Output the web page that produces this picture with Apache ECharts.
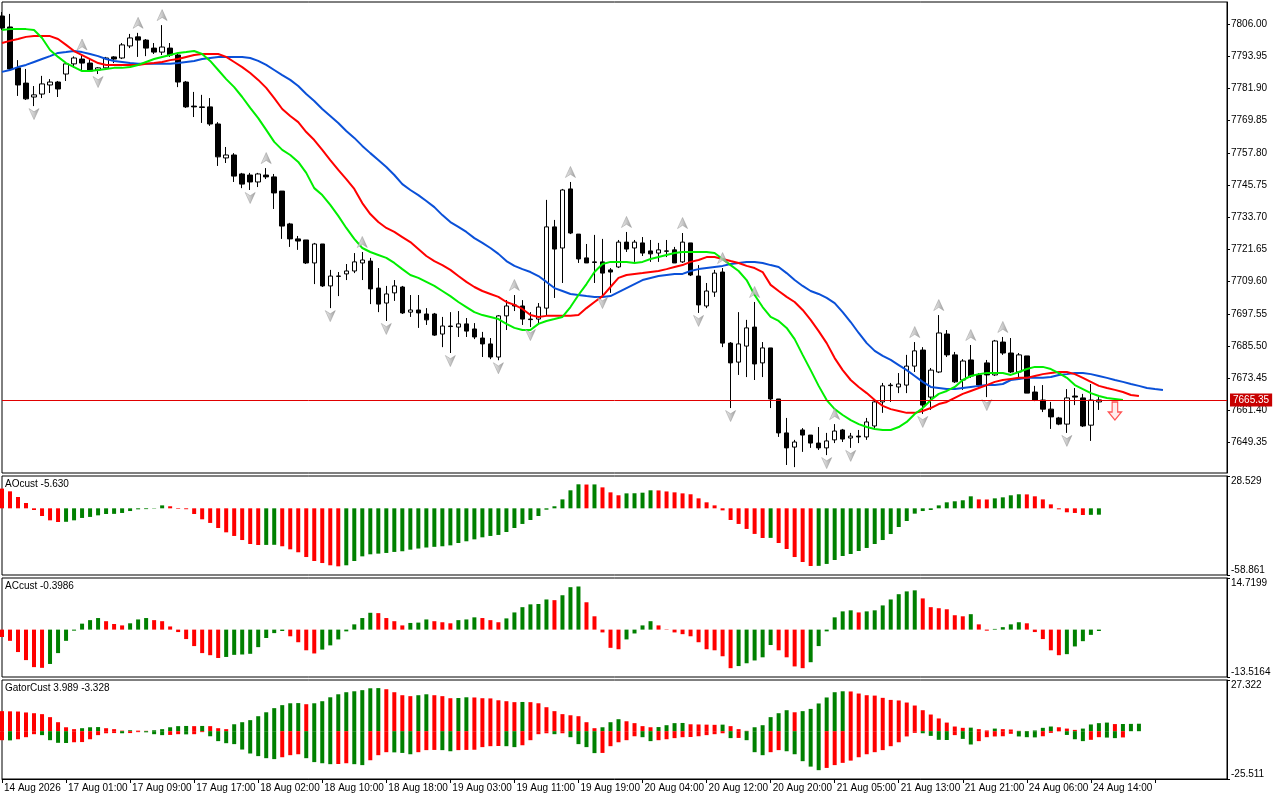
<!DOCTYPE html>
<html><head><meta charset="utf-8">
<script src="https://cdn.jsdelivr.net/npm/echarts@6/dist/echarts.min.js"></script>
<style>html,body{margin:0;padding:0;background:#fff}#c{width:1280px;height:800px}</style>
</head><body><div id="c"></div><script>
// ---------- data ----------
// candles: [open, close, low, high], H1 bars from 14 Aug 2026 16:00
const ohlc = [
[7809.0,7804.5,7803.8,7810.5],[7804.9,7789.2,7788.8,7809.8],[7789.6,7783.2,7779.1,7792.5],[7783.9,7778.0,7777.6,7789.2],
[7778.7,7779.5,7775.3,7782.8],[7779.8,7783.6,7778.3,7786.6],[7783.2,7784.3,7780.2,7785.4],[7784.3,7781.7,7778.7,7784.7],
[7787.3,7791.1,7784.7,7791.8],[7791.1,7793.3,7789.6,7793.9],[7792.9,7791.4,7788.4,7794.6],[7791.4,7788.4,7788.1,7793.3],
[7788.8,7789.6,7787.3,7789.9],[7789.6,7793.3,7788.8,7793.7],[7793.7,7792.9,7791.4,7794.0],[7793.3,7798.2,7792.9,7798.9],
[7797.8,7800.8,7797.0,7802.3],[7801.2,7800.0,7793.7,7802.7],[7800.0,7797.0,7794.0,7800.4],[7797.0,7795.5,7794.8,7798.9],
[7795.5,7797.4,7794.4,7805.6],[7797.0,7794.4,7793.7,7798.9],[7794.4,7784.3,7782.4,7794.8],[7784.3,7775.0,7774.6,7784.7],
[7775.3,7775.0,7771.2,7780.6],[7775.0,7774.8,7769.0,7779.5],[7775.0,7768.6,7767.9,7778.3],[7768.6,7756.3,7752.9,7769.3],
[7755.9,7757.0,7754.0,7760.0],[7757.0,7749.1,7746.9,7757.7],[7749.9,7746.1,7744.6,7750.3],[7749.5,7746.9,7743.9,7750.3],
[7746.9,7749.9,7745.0,7750.3],[7749.5,7748.8,7748.0,7752.1],[7748.8,7742.8,7736.8,7749.9],[7743.5,7730.4,7725.6,7743.5],
[7731.2,7725.6,7722.6,7731.6],[7725.6,7724.8,7721.5,7726.7],[7725.2,7716.6,7716.2,7725.2],[7716.6,7723.7,7708.7,7724.1],
[7723.7,7708.0,7707.6,7723.7],[7708.0,7711.7,7699.7,7714.0],[7711.7,7711.6,7704.2,7713.2],[7712.5,7713.6,7710.2,7716.2],
[7713.6,7717.0,7712.8,7720.3],[7716.6,7717.7,7710.2,7720.7],[7717.3,7706.9,7701.2,7718.5],[7707.2,7701.2,7698.2,7714.7],
[7701.6,7705.0,7694.9,7708.0],[7705.4,7708.0,7702.4,7710.2],[7707.6,7697.9,7697.5,7708.0],[7698.2,7699.0,7696.4,7704.6],
[7699.0,7697.9,7692.3,7704.6],[7697.5,7695.3,7693.4,7699.7],[7697.5,7689.6,7689.3,7697.9],[7690.0,7693.0,7685.1,7696.4],
[7693.0,7692.8,7682.9,7698.2],[7692.6,7693.8,7688.9,7698.6],[7693.8,7691.1,7688.9,7696.0],[7691.9,7688.9,7688.1,7694.1],
[7688.5,7686.3,7681.4,7690.8],[7686.3,7681.4,7680.6,7688.5],[7681.4,7696.8,7680.2,7697.1],[7696.8,7700.5,7691.5,7702.7],
[7700.9,7700.5,7698.6,7704.6],[7700.5,7695.6,7693.4,7702.7],[7695.6,7695.4,7692.6,7698.2],[7695.6,7700.1,7694.1,7701.6],
[7699.7,7730.1,7697.1,7740.2],[7730.1,7721.8,7703.5,7732.7],[7722.2,7743.9,7709.1,7744.3],[7744.3,7727.8,7727.4,7746.9],
[7727.4,7718.1,7716.6,7727.4],[7718.5,7716.6,7716.6,7723.7],[7717.0,7716.8,7709.1,7727.1],[7717.0,7712.8,7704.6,7725.6],
[7714.0,7713.2,7705.4,7714.7],[7715.1,7724.4,7714.7,7725.2],[7724.4,7721.8,7720.7,7728.2],[7722.2,7724.4,7717.0,7725.2],
[7724.1,7720.3,7719.2,7726.3],[7721.1,7720.0,7717.0,7725.2],[7720.3,7721.5,7717.0,7724.1],[7721.1,7721.0,7718.8,7725.2],
[7721.5,7716.6,7716.6,7722.6],[7717.0,7724.4,7716.6,7727.8],[7724.1,7712.1,7711.7,7724.1],[7711.7,7700.9,7697.9,7715.8],
[7700.5,7706.1,7699.7,7709.1],[7705.7,7712.8,7703.9,7714.0],[7713.2,7686.6,7685.1,7714.7],[7686.6,7679.2,7662.3,7687.0],
[7679.5,7686.3,7674.7,7698.2],[7685.5,7692.3,7673.9,7695.3],[7692.6,7678.8,7672.8,7702.0],[7679.2,7684.8,7673.9,7687.0],
[7684.8,7665.7,7662.3,7684.8],[7665.7,7653.0,7651.5,7665.7],[7653.0,7647.4,7641.0,7658.6],[7647.7,7649.6,7640.2,7650.4],
[7654.1,7652.2,7645.9,7654.8],[7652.2,7649.2,7647.4,7652.2],[7649.2,7647.4,7646.6,7655.2],[7647.4,7650.0,7644.7,7653.0],
[7650.4,7653.7,7649.2,7656.3],[7654.1,7650.7,7649.6,7654.5],[7651.1,7651.8,7647.4,7653.0],[7651.8,7651.5,7649.2,7654.1],
[7651.5,7657.1,7650.4,7658.6],[7655.6,7664.6,7654.1,7665.3],[7664.6,7670.6,7660.5,7671.7],[7670.9,7670.7,7664.6,7671.7],
[7670.2,7671.3,7667.9,7675.4],[7670.9,7678.0,7667.9,7682.2],[7678.0,7683.7,7675.8,7687.0],[7684.0,7663.4,7660.1,7685.1],
[7666.4,7676.5,7661.6,7677.3],[7675.8,7690.4,7675.4,7697.1],[7690.0,7682.2,7681.4,7691.5],[7682.2,7672.1,7671.7,7683.3],
[7672.8,7679.9,7669.1,7680.6],[7680.3,7674.3,7673.6,7685.9],[7674.7,7670.9,7670.2,7675.4],[7679.2,7674.7,7666.4,7680.3],
[7674.7,7687.4,7674.3,7687.8],[7687.0,7682.9,7682.2,7688.9],[7682.9,7675.8,7675.4,7688.5],[7675.8,7682.2,7673.6,7682.9],
[7681.8,7667.9,7667.9,7681.8],[7668.3,7665.3,7664.9,7670.6],[7665.3,7661.9,7660.8,7670.9],[7661.9,7659.0,7654.5,7664.6],
[7658.6,7656.3,7655.9,7659.0],[7656.3,7666.1,7653.0,7669.4],[7666.8,7666.4,7663.4,7669.8],[7666.1,7655.6,7655.2,7667.6],
[7655.9,7665.3,7650.0,7671.3],[7664.6,7665.35,7661.6,7666.4]
];
// Alligator lines (already shifted forward, as drawn)
const jaw = [7788.1,7788.8,7789.9,7790.7,7791.8,7792.9,7794.0,7795.2,7795.5,7795.9,
7795.5,7794.8,7794.0,7792.9,7792.2,7791.8,7791.4,7791.1,7791.1,7791.1,
7791.1,7791.1,7791.4,7791.8,7792.2,7792.9,7793.3,7793.7,7793.7,7793.7,
7793.7,7793.3,7792.2,7790.7,7788.8,7786.9,7785.1,7782.8,7779.8,7777.2,
7774.2,7771.6,7769.0,7766.0,7763.4,7760.4,7757.7,7755.1,7752.5,7749.5,
7746.1,7743.9,7742.0,7739.8,7737.5,7734.5,7731.9,7730.1,7728.2,7725.9,
7724.1,7722.2,7720.0,7717.3,7715.5,7714.3,7713.2,7711.7,7709.5,7707.2,
7706.1,7705.0,7704.6,7704.2,7703.9,7703.9,7704.2,7705.7,7707.2,7708.7,
7710.2,7711.0,7711.7,7712.1,7712.5,7712.5,7713.6,7714.3,7714.7,7715.1,
7715.5,7716.2,7716.6,7717.0,7717.0,7716.6,7715.8,7715.1,7712.8,7710.2,
7708.0,7706.1,7705.0,7703.5,7701.6,7698.2,7694.5,7690.4,7686.6,7683.7,
7681.8,7680.3,7678.4,7676.5,7674.3,7672.1,7670.2,7669.8,7669.4,7669.4,
7669.8,7670.2,7670.6,7670.9,7670.9,7671.3,7672.8,7673.2,7673.6,7673.6,
7673.6,7673.9,7674.7,7675.0,7675.4,7675.4,7675.0,7674.3,7673.6,7672.8,
7672.1,7671.3,7670.6,7669.8,7669.4,7669.1];
const teeth = [7798.9,7799.7,7800.4,7801.2,7801.5,7801.5,7801.5,7800.4,7798.2,7795.9,
7794.4,7792.9,7791.4,7790.7,7790.7,7790.7,7790.7,7790.7,7791.1,7791.4,
7791.8,7792.5,7792.9,7793.7,7794.4,7794.8,7794.8,7794.8,7793.7,7791.8,
7789.9,7787.7,7785.1,7782.1,7778.3,7774.2,7771.6,7769.3,7765.6,7762.6,
7758.9,7755.1,7751.4,7748.0,7744.3,7739.0,7734.9,7731.9,7729.7,7728.2,
7726.3,7724.4,7721.8,7719.2,7717.3,7715.8,7714.0,7711.7,7709.5,7707.6,
7706.1,7705.0,7703.9,7702.0,7700.9,7699.4,7697.1,7696.4,7696.8,7696.8,
7696.8,7696.8,7697.1,7699.7,7702.0,7704.2,7707.6,7711.0,7712.1,7712.5,
7712.8,7713.2,7713.6,7714.3,7715.1,7715.8,7717.0,7717.7,7718.8,7718.8,
7718.1,7717.3,7716.6,7715.5,7714.7,7713.2,7708.4,7706.1,7703.9,7702.0,
7699.0,7695.3,7691.1,7686.6,7681.0,7676.5,7672.8,7670.2,7667.9,7665.3,
7663.1,7661.9,7661.2,7660.5,7660.5,7661.2,7662.3,7663.8,7664.6,7666.1,
7667.6,7668.7,7669.8,7670.9,7672.1,7672.8,7673.2,7673.6,7673.6,7674.3,
7675.0,7675.4,7675.8,7675.8,7675.0,7673.6,7672.1,7670.6,7669.8,7669.1,
7668.3,7667.2,7666.8];
const lips = [7803.8,7804.1,7804.1,7804.1,7803.8,7800.8,7796.3,7793.7,7791.4,7789.9,
7788.4,7788.4,7788.8,7789.2,7789.6,7789.6,7789.9,7790.7,7791.8,7792.9,
7793.7,7794.4,7795.2,7795.5,7795.9,7794.8,7792.2,7788.8,7785.4,7782.4,
7778.7,7774.6,7770.8,7766.4,7761.9,7758.9,7757.0,7754.4,7750.3,7744.6,
7742.0,7738.3,7734.2,7729.7,7725.6,7722.2,7720.7,7719.6,7718.5,7716.6,
7714.3,7712.1,7711.0,7709.5,7708.0,7706.1,7704.2,7702.0,7700.1,7698.2,
7697.1,7696.4,7695.6,7693.8,7692.3,7691.5,7691.5,7693.8,7694.9,7695.6,
7696.4,7700.1,7704.6,7708.7,7713.2,7716.2,7717.0,7717.0,7717.0,7716.6,
7717.0,7718.1,7718.8,7719.6,7720.3,7720.7,7720.7,7720.7,7720.7,7720.3,
7718.1,7715.8,7713.6,7710.2,7704.6,7700.1,7696.4,7694.9,7692.3,7688.1,
7682.2,7676.5,7670.6,7665.3,7661.9,7659.7,7657.8,7656.3,7655.2,7654.5,
7654.1,7654.1,7655.2,7657.1,7660.1,7662.3,7665.3,7667.6,7668.7,7670.2,
7672.8,7674.3,7675.0,7675.4,7675.4,7675.4,7674.7,7675.8,7676.9,7677.7,
7677.7,7676.9,7675.4,7673.6,7670.9,7669.4,7667.9,7666.8,7666.1,7665.7,
7665.3];
const ao = [17.4,15.0,10.0,4.7,-1.5,-6.8,-10.6,-12.1,-11.9,-10.6,
-8.5,-7.6,-6.2,-5.0,-4.9,-4.1,-2.4,-0.9,-0.7,-0.3,
2.6,1.8,-0.5,-0.8,-5.0,-9.7,-12.9,-17.4,-21.2,-24.4,
-28.0,-31.5,-32.4,-32.3,-32.2,-33.5,-36.2,-38.8,-43.0,-46.5,
-48.3,-50.3,-51.2,-50.3,-46.5,-42.4,-40.6,-40.0,-39.4,-38.5,
-37.9,-36.5,-35.5,-34.6,-34.0,-33.5,-32.7,-30.6,-29.1,-27.4,
-25.6,-24.4,-23.5,-20.9,-17.4,-13.8,-10.3,-6.8,-1.2,1.8,
7.9,15.9,21.2,21.0,21.1,18.5,14.1,11.5,13.2,13.3,
13.8,15.9,15.8,14.9,14.1,13.2,12.4,8.8,5.3,2.6,
-1.8,-10.3,-13.8,-18.2,-22.6,-26.2,-26.1,-30.6,-35.9,-43.0,
-47.4,-50.9,-50.8,-49.1,-45.6,-42.1,-40.3,-37.7,-35.0,-31.5,
-28.0,-22.7,-16.5,-11.2,-4.7,-2.4,-1.5,2.6,5.3,6.2,
7.1,10.6,7.9,7.8,8.8,9.7,11.5,12.4,12.3,10.6,
7.9,3.5,-0.9,-3.5,-4.1,-5.9,-5.75,-5.63];
const ac = [-2.1,-3.2,-6.4,-8.7,-10.7,-10.9,-9.8,-6.7,-3.2,-0.3,
1.7,2.7,3.3,2.4,1.6,1.2,1.8,2.9,3.3,2.7,
2.4,0.9,-0.7,-2.7,-4.7,-6.7,-7.3,-8.1,-7.8,-7.2,
-7.1,-6.9,-5.0,-2.4,-1.0,-0.4,-1.9,-3.6,-5.9,-6.8,
-5.7,-4.5,-2.8,-0.5,1.5,3.3,4.8,4.7,3.3,2.4,
1.2,1.9,2.0,2.9,2.4,2.1,1.8,2.7,2.9,3.5,
3.3,2.7,2.1,3.2,4.9,6.4,7.2,7.3,8.6,8.4,
9.8,12.1,12.3,7.8,3.8,-0.8,-5.2,-5.6,-2.8,-1.1,
1.2,2.4,1.2,-0.1,-0.8,-1.3,-1.9,-3.6,-5.6,-5.9,
-7.6,-11.0,-10.4,-9.6,-8.8,-7.9,-4.4,-5.9,-7.9,-10.5,
-11.0,-9.3,-4.7,-0.5,3.5,5.2,5.5,4.9,5.2,5.5,
6.9,8.6,10.1,10.9,11.2,8.9,6.4,6.1,5.8,4.1,
3.8,4.4,1.5,-0.3,0.2,0.7,1.5,2.1,1.8,-0.7,
-2.7,-5.9,-7.3,-7.0,-4.8,-3.3,-1.5,-0.3986];
const gatorUp = [10.7,10.6,10.5,10.0,9.6,9.1,7.5,4.8,2.1,1.1,
1.6,2.1,2.2,1.6,1.1,0.3,0.5,0.3,0.2,0.5,
1.1,2.1,2.7,2.8,2.7,2.8,2.7,1.6,1.1,3.7,
4.8,5.9,8.0,10.1,12.3,13.9,14.9,15.0,14.4,14.9,
16.0,18.1,19.7,20.8,21.3,21.9,22.9,23.0,22.4,20.8,
19.2,18.7,19.2,19.7,19.2,18.7,17.6,17.7,18.1,18.0,
17.6,17.5,16.5,16.0,15.5,15.6,15.5,14.9,12.8,10.7,
9.1,8.5,8.0,4.8,1.6,2.1,4.8,6.4,5.3,4.3,
2.7,2.1,2.2,3.2,4.3,4.4,3.7,3.6,3.5,3.4,
3.5,2.7,1.1,0.2,2.1,3.2,7.5,9.6,11.2,10.1,
10.7,11.9,14.8,18.0,20.8,21.3,21.2,20.1,19.2,19.0,
17.8,16.7,16.4,15.3,13.7,11.2,8.9,6.8,4.6,2.5,
1.8,1.9,1.1,0.4,1.4,1.1,0.9,0.2,0.1,0.4,
1.8,2.5,2.1,1.4,0.7,1.4,3.6,4.3,4.6,3.8,
3.85,3.9,3.989];
const gatorDown = [-4.8,-4.9,-4.3,-3.2,-1.6,-2.1,-4.8,-6.2,-6.3,-5.9,
-5.8,-4.3,-2.1,-1.1,-1.0,-1.1,-1.0,-0.5,-0.6,-1.6,
-2.1,-2.0,-1.6,-1.7,-1.6,-0.5,-2.7,-5.3,-6.4,-6.9,
-9.8,-11.9,-13.3,-14.4,-14.9,-13.9,-12.8,-12.3,-14.4,-16.5,
-17.1,-17.6,-17.5,-17.1,-17.6,-18.1,-15.5,-12.8,-11.2,-11.3,
-11.6,-12.3,-11.2,-10.1,-10.0,-10.1,-10.7,-10.1,-10.0,-9.9,
-8.5,-8.0,-7.9,-8.0,-8.5,-7.5,-4.8,-1.6,-1.1,-1.6,
-1.1,-3.2,-6.9,-8.5,-11.7,-11.6,-8.0,-5.9,-4.8,-2.7,
-3.2,-5.3,-4.8,-4.3,-3.7,-3.2,-3.1,-2.7,-2.1,-1.6,
-1.1,-3.7,-3.6,-4.8,-11.2,-12.8,-11.2,-10.1,-10.7,-12.3,
-16.0,-18.9,-20.8,-19.6,-18.1,-16.9,-15.7,-13.9,-12.3,-11.2,
-10.1,-8.0,-5.9,-2.8,-0.9,-1.1,-2.5,-4.6,-4.7,-2.1,
-4.1,-7.1,-5.3,-3.2,-2.8,-2.7,-1.4,-2.8,-3.2,-3.3,
-2.7,-0.9,-0.1,-2.0,-4.3,-5.3,-4.6,-3.2,-3.4,-3.7,
-3.328];
const fractalUp = [10,17,20,33,45,64,71,78,85,90,94,104,114,117,121,125];
const fractalDown = [4,12,31,41,48,56,62,66,75,87,91,103,106,115,123,133];
const sellSignal = [[139, 7661.2]];
const lastPrice = 7665.35;
const priceTicks = [7649.35,7661.40,7673.45,7685.50,7697.55,7709.60,7721.65,7733.70,7745.75,7757.80,7769.85,7781.90,7793.95,7806.00];
const priceRange = [7638.0, 7814.25];
const aoRange = [-58.861, 28.529];
const acRange = [-13.5164, 14.7199];
const gatorRange = [-25.511, 27.322];
const timeLabels = ['14 Aug 2026','17 Aug 01:00','17 Aug 09:00','17 Aug 17:00','18 Aug 02:00','18 Aug 10:00','18 Aug 18:00','19 Aug 03:00','19 Aug 11:00','19 Aug 19:00','20 Aug 04:00','20 Aug 12:00','20 Aug 20:00','21 Aug 05:00','21 Aug 13:00','21 Aug 21:00','24 Aug 06:00','24 Aug 14:00'];
const slotCount = 154;   // bars plus empty space on the right
const labelEvery = 8;

// ---------- chart ----------
const GREEN = '#008000', RED = '#ff0000';
const FONT = 'Liberation Sans, Arial, sans-serif';
const cats = Array.from({length: slotCount}, (_, i) => String(i));
function colored(arr, useAbs) {
  return arr.map((v, i) => {
    const cur = useAbs ? Math.abs(v) : v;
    const prev = i > 0 ? (useAbs ? Math.abs(arr[i-1]) : arr[i-1]) : null;
    return {value: v, itemStyle: {color: (prev !== null && cur > prev) ? GREEN : RED}};
  });
}
const grids = [
  {left: 2, right: 53, top: 2, height: 471},
  {left: 2, right: 53, top: 476, height: 99},
  {left: 2, right: 53, top: 578, height: 99},
  {left: 2, right: 53, top: 680, height: 99}
].map(g => Object.assign(g, {show: true, borderColor: '#000', borderWidth: 1, backgroundColor: 'transparent'}));

const xAxes = [0,1,2,3].map(k => ({
  type: 'category', data: cats, boundaryGap: false, gridIndex: k,
  show: k === 3,
  axisLine: {show: true, onZero: false, lineStyle: {color: '#000', width: 1}},
  axisTick: {show: true, length: 4, lineStyle: {color: '#000'},
    interval: (idx) => idx % labelEvery === 0 && idx <= 144},
  axisLabel: {show: true, color: '#000', fontFamily: FONT, fontSize: 10, align: 'left', margin: 4,
    padding: [0, 0, 0, 2],
    interval: (idx) => idx % labelEvery === 0 && idx / labelEvery < timeLabels.length,
    formatter: (v, idx) => (idx % labelEvery === 0 && timeLabels[idx / labelEvery]) || ''},
  splitLine: {show: false}
}));

function sideAxis(k, range, digits, ticks) {
  return {
    type: 'value', gridIndex: k, position: 'right', min: range[0], max: range[1], scale: true,
    axisLine: {show: true, onZero: false, lineStyle: {color: '#000', width: 1}},
    axisTick: {show: true, length: 3, lineStyle: {color: '#000'}, customValues: ticks},
    axisLabel: {show: true, color: '#000', fontFamily: FONT, fontSize: 10, margin: 4,
      customValues: ticks, formatter: v => Number(v).toFixed(digits),
      verticalAlignMinLabel: k === 0 ? 'middle' : 'bottom',
      verticalAlignMaxLabel: k === 0 ? 'middle' : 'top'},
    splitLine: {show: false}
  };
}
const yAxes = [
  sideAxis(0, priceRange, 2, priceTicks),
  sideAxis(1, aoRange, 3, aoRange),
  sideAxis(2, acRange, 4, acRange),
  sideAxis(3, gatorRange, 3, gatorRange)
];

const upPath = 'path://M5,0 L10,12 L5,8.5 L0,12 Z';
const downPath = 'path://M0,0 L5,3.5 L10,0 L5,12 Z';
const fractalStyle = {
  color: new echarts.graphic.LinearGradient(0, 0, 1, 0, [
    {offset: 0, color: '#e8e8e8'}, {offset: 0.5, color: '#bcbcbc'}, {offset: 1, color: '#848484'}]),
  borderColor: '#939393', borderWidth: 0.6
};

const option = {
  animation: false,
  backgroundColor: '#fff',
  grid: grids,
  xAxis: xAxes,
  yAxis: yAxes,
  series: [
    {type: 'candlestick', xAxisIndex: 0, yAxisIndex: 0, data: ohlc, barWidth: 5, z: 2,
      itemStyle: {color: '#fff', color0: '#000', borderColor: '#000', borderColor0: '#000', borderWidth: 1},
      markLine: {silent: true, symbol: ['none', 'none'], animation: false,
        lineStyle: {color: '#e00000', width: 1, type: 'solid'},
        label: {show: true, position: 'end', distance: 3, formatter: lastPrice.toFixed(2),
          color: '#fff', backgroundColor: '#c80000', padding: [2, 3, 1, 3], fontFamily: FONT, fontSize: 10},
        data: [{yAxis: lastPrice}]}},
    {type: 'line', xAxisIndex: 0, yAxisIndex: 0, data: jaw, showSymbol: false, z: 3,
      lineStyle: {color: '#0a50d8', width: 2}},
    {type: 'line', xAxisIndex: 0, yAxisIndex: 0, data: teeth, showSymbol: false, z: 3,
      lineStyle: {color: '#ff0000', width: 2}},
    {type: 'line', xAxisIndex: 0, yAxisIndex: 0, data: lips, showSymbol: false, z: 3,
      lineStyle: {color: '#00ee00', width: 2}},
    {type: 'scatter', xAxisIndex: 0, yAxisIndex: 0, z: 4, symbol: upPath, symbolSize: [10, 11], symbolOffset: [0, -10],
      data: fractalUp.map(i => [i, ohlc[i][3]]), itemStyle: fractalStyle},
    {type: 'scatter', xAxisIndex: 0, yAxisIndex: 0, z: 4, symbol: downPath, symbolSize: [10, 11], symbolOffset: [0, 8],
      data: fractalDown.map(i => [i, ohlc[i][2]]), itemStyle: fractalStyle},
    {type: 'scatter', xAxisIndex: 0, yAxisIndex: 0, z: 5,
      symbol: 'path://M4,0 L10,0 L10,10 L14,10 L7,18 L0,10 L4,10 Z', symbolSize: [13, 18],
      data: sellSignal, itemStyle: {color: '#ffe8e8', borderColor: '#ff2a2a', borderWidth: 1.3}},
    {type: 'bar', xAxisIndex: 1, yAxisIndex: 1, data: colored(ao, false), barWidth: 4},
    {type: 'bar', xAxisIndex: 2, yAxisIndex: 2, data: colored(ac, false), barWidth: 4},
    {type: 'bar', xAxisIndex: 3, yAxisIndex: 3, data: colored(gatorUp, false), barWidth: 4, barGap: '-100%'},
    {type: 'bar', xAxisIndex: 3, yAxisIndex: 3, data: colored(gatorDown, true), barWidth: 4, barGap: '-100%'}
  ],
  graphic: [
    {type: 'text', left: 5, top: 479, silent: true,
      style: {text: 'AOcust ' + ao[ao.length - 1].toFixed(3), font: '10px ' + FONT, fill: '#000'}},
    {type: 'text', left: 5, top: 581, silent: true,
      style: {text: 'ACcust ' + ac[ac.length - 1].toFixed(4), font: '10px ' + FONT, fill: '#000'}},
    {type: 'text', left: 5, top: 683, silent: true,
      style: {text: 'GatorCust ' + gatorUp[gatorUp.length - 1].toFixed(3) + ' ' + gatorDown[gatorDown.length - 1].toFixed(3),
        font: '10px ' + FONT, fill: '#000'}}
  ]
};
const chart = echarts.init(document.getElementById('c'), null, {renderer: 'canvas'});
chart.setOption(option);
</script></body></html>
